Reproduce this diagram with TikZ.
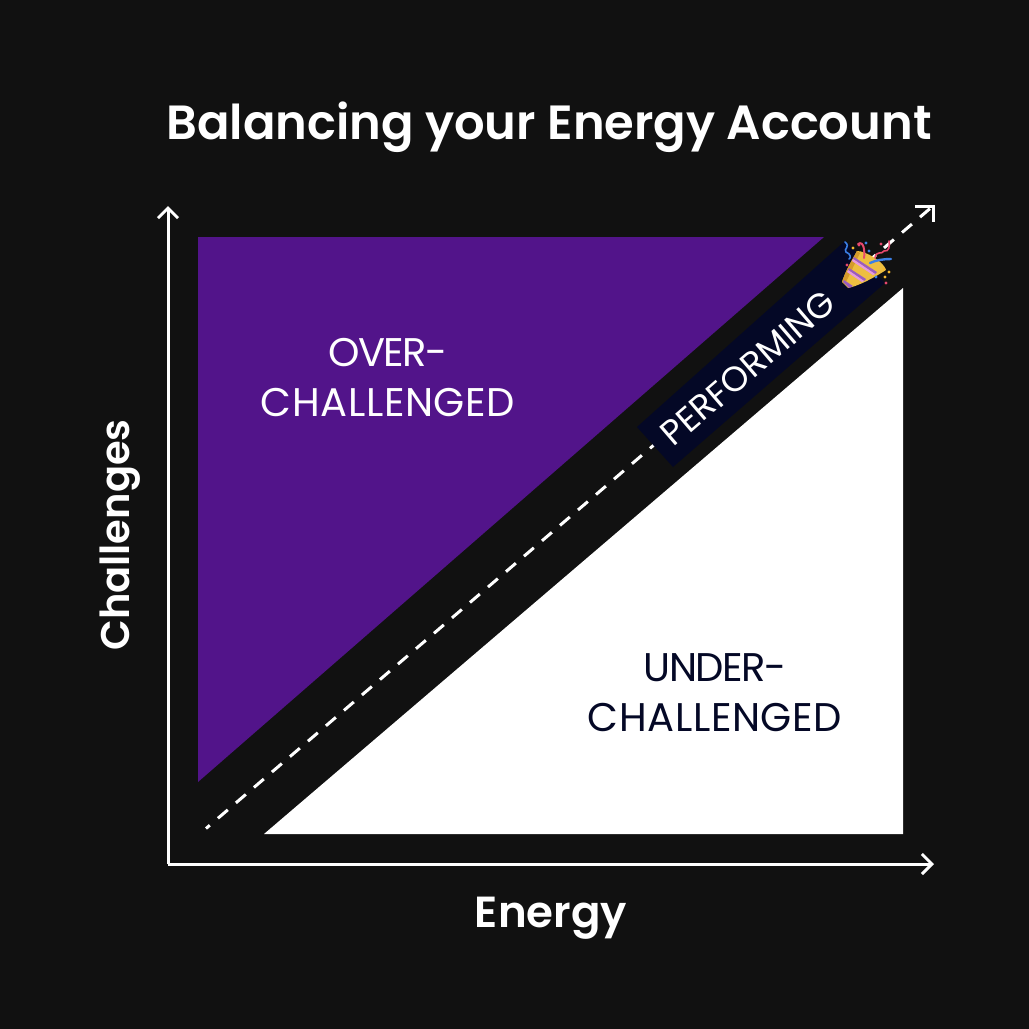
\documentclass[tikz,border=0pt]{standalone}
\usepackage{fontspec}
\usepackage{xcolor}
\usetikzlibrary{arrows.meta,calc}
\setmainfont{Poppins}
\newfontfamily\headfont{Poppins SemiBold}
\newcommand{\squeezed}[1]{{\addfontfeature{LetterSpace=-3.5}#1}}
\newcommand{\spread}[1]{{\addfontfeature{LetterSpace=1.5}#1}}
\definecolor{bgdark}{HTML}{111111}
\definecolor{overpurple}{HTML}{52148A}
\definecolor{bannernavy}{HTML}{040826}
\definecolor{conegold}{HTML}{EDBE40}
\definecolor{conedark}{HTML}{D49A2C}
\definecolor{conestripe}{HTML}{9A5CC0}
\definecolor{conepink}{HTML}{E59AE0}
\definecolor{confettired}{HTML}{E8486E}
\definecolor{confettiblue}{HTML}{3B7FE6}
\definecolor{confettiyellow}{HTML}{F5B82E}
\tikzset{
	axisline/.style={white, line width=3pt, line join=miter},
	dashline/.style={white, line width=3pt},
	titletext/.style={white, font=\fontsize{48}{58}\headfont},
	axistext/.style={white, font=\fontsize{40}{50}\headfont},
	zonetext/.style={align=center, font=\fontsize{40}{50}\selectfont},
	streamer/.style={line width=1.6pt, line cap=round},
	bit/.style={radius=1.7pt}
}

\begin{document}
\begin{tikzpicture}[x=1pt,y=-1pt]

	\fill [bgdark] (0, 0) rectangle (1029, 1029);
	\useasboundingbox (0, 0) rectangle (1029, 1029);

	\fill [overpurple] (198, 237) -- (824, 237) -- (198, 782) -- cycle;
	\fill [white] (903, 288) -- (903, 834) -- (264, 834) -- cycle;

	\coordinate (origin) at (168, 864);
	\coordinate (ytip) at (168, 206);
	\coordinate (xtip) at (934, 864);
	\coordinate (dashstart) at (206, 828.5);
	\coordinate (dashtip) at (933, 206);

	\draw [axisline, -{Straight Barb[length=10pt,width=20pt,line width=3pt]}] (origin) -- (ytip);
	\draw [axisline, -{Straight Barb[length=10pt,width=20pt,line width=3pt]}] (origin) -- (xtip);

	\draw [dashline, dash pattern=on 13pt off 10.7pt, dash phase=8pt] (dashstart) -- (dashtip);
	\draw [dashline] ($(dashtip)+(-18,0)$) -- (dashtip) -- ($(dashtip)+(0,16)$);

	\fill [bannernavy] (637, 427) -- (673, 467) -- (885, 283) -- (845, 241) -- cycle;
	\node [white, rotate=40.7, font=\fontsize{35}{40}\selectfont] (performing) at (748, 368) {PERFORMING};

	\node [titletext] (title) at (549, 127) {Balancing your Energy Account};
	\node [axistext, font=\fontsize{43.5}{50}\headfont] (energy) at (551, 918) {Energy};
	\node [axistext, rotate=90] (challenges) at (120, 535) {Challenges};
	\node [zonetext, white] (over) at (388, 378) {\squeezed{OVER-}\\\spread{CHALLENGED}};
	\node [zonetext, bannernavy] (under) at (715, 693) {\squeezed{UNDER-}\\\spread{CHALLENGED}};

	% party popper
	\fill [conegold] (842, 282) .. controls (846, 270) and (851, 262) .. (857, 251)
		.. controls (866, 251) and (884, 262) .. (886, 270)
		.. controls (872, 279) and (858, 286) .. (848, 288) -- cycle;
	\fill [conedark] (857, 251) -- (860, 253) -- (845, 284) -- (842, 282) .. controls (846, 270) and (851, 262) .. (857, 251) -- cycle;
	\fill [conestripe] (853, 259) -- (854, 257) -- (877, 272) -- (875, 274) -- cycle;
	\fill [conepink] (852, 261) -- (853, 259) -- (875, 274) -- (873, 275) -- cycle;
	\fill [conestripe] (848, 270) -- (849, 268) -- (866, 279) -- (864, 281) -- cycle;
	\fill [conepink] (847, 272) -- (848, 270) -- (864, 281) -- (862, 282) -- cycle;
	\fill [conestripe] (843, 282) -- (844, 280) -- (853, 286) -- (849, 288) -- cycle;
	\draw [streamer, confettired, line width=2pt] (858, 244) .. controls (864, 240) and (865, 252) .. (864, 258);
	\draw [streamer, confettiblue, line width=2.4pt] (870, 263) .. controls (876, 260) and (884, 259) .. (891, 259);
	\draw [streamer, confettiblue] (845, 242) .. controls (851, 247) and (843, 249) .. (846, 252) .. controls (851, 254) and (851, 258) .. (849, 259);
	\draw [streamer, confettired] (875, 258) .. controls (876, 250) and (882, 255) .. (884, 251) .. controls (889, 252) and (890, 246) .. (889, 241);
	\fill [confettiyellow] (853, 248) circle [bit];
	\fill [confettiyellow] (884, 269) circle [bit];
	\fill [confettiyellow] (889, 272) circle [bit];
	\fill [confettiyellow] (885, 277) circle [bit];
	\fill [confettired] (847, 265) circle [bit];
	\fill [confettired] (881, 244) circle [bit];
	\fill [confettired] (886, 283) circle [bit];
	\fill [confettired] (859, 245) circle [bit];
	\fill [confettiblue] (866, 243) circle [bit];
	\fill [confettiblue] (869, 251) circle [bit];
	\fill [confettiblue] (876, 277) circle [bit];

\end{tikzpicture}
\end{document}
